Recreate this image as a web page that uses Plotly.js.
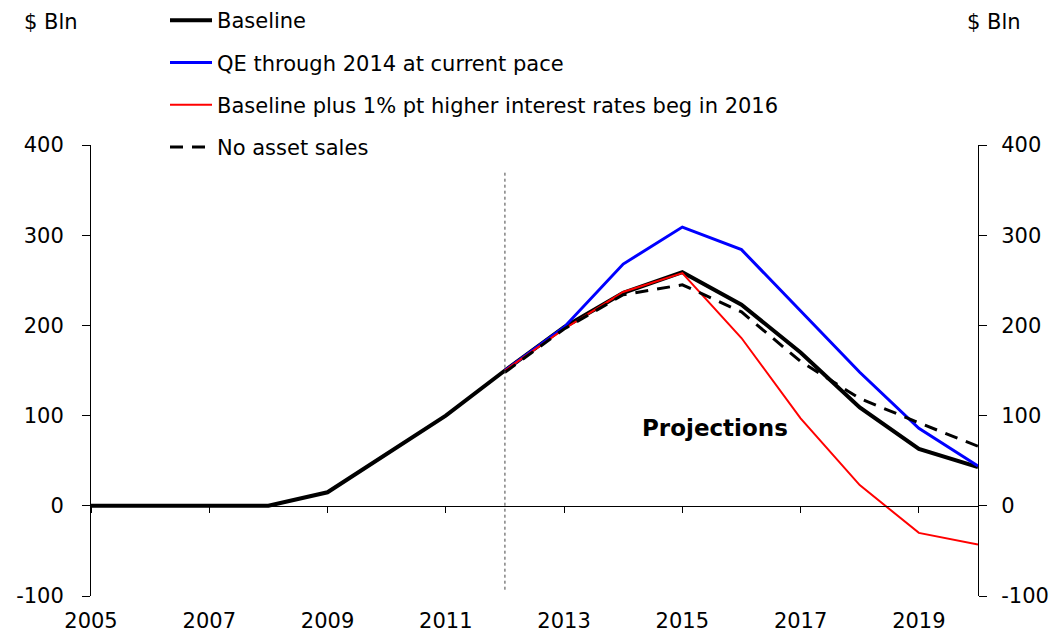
<!DOCTYPE html>
<html><head><meta charset="utf-8">
<script src="https://cdn.plot.ly/plotly-3.0.1.min.js"></script>
<style>html,body{margin:0;padding:0;background:#fff}#c{width:1058px;height:637px}</style>
</head><body><div id="c"></div>
<script>
const yearsAll = [2005,2006,2007,2008,2009,2010,2011,2012,2013,2014,2015,2016,2017,2018,2019,2020];
const baseline = [0,0,0,0,15,58,100,150,198,236,259,223,170,109,63,43];
const yearsProj = [2012,2013,2014,2015,2016,2017,2018,2019,2020];
const qe2014 = [150,198,268,309,284,216,148,86,44];
const higherRates = [150,196,237,258,186,97,23,-30,-43];
const noAssetSales = [148,196,234,245,215,160,119,92,66];
const names = ["Baseline","QE through 2014 at current pace","Baseline plus 1% pt higher interest rates beg in 2016","No asset sales"];
const xTicks = [2005,2007,2009,2011,2013,2015,2017,2019];
const yTicks = [-100,0,100,200,300,400];
const yTickText = ["-100","0","100","200","300","400"];

const F = "'DejaVu Sans', Verdana, sans-serif";
const FS = 21;
const W = 1058, H = 637, L = 91, R = 80, T = 145, B = 41;
const pw = W - L - R, ph = H - T - B;
const traces = [
  {x: yearsAll, y: baseline, name: names[0], mode:'lines', line:{color:'#000', width:4}, legendgroup:'a'},
  {x: yearsProj, y: qe2014, name: names[1], mode:'lines', line:{color:'#0000ff', width:3}, legendgroup:'b'},
  {x: yearsProj, y: higherRates, name: names[2], mode:'lines', line:{color:'#ff0000', width:2}, legendgroup:'c'},
  {x: yearsProj, y: noAssetSales, name: names[3], mode:'lines', line:{color:'#000', width:3, dash:'13px,9px'}, legendgroup:'d'},
  {x: [2005,2020], y:[0,0], xaxis:'x2', yaxis:'y2', mode:'lines', line:{width:0}, showlegend:false, hoverinfo:'skip'}
];
const layout = {
  width:W, height:H,
  margin:{l:L, r:R, t:T, b:B, autoexpand:false},
  paper_bgcolor:'#fff', plot_bgcolor:'#fff',
  font:{family:F, size:FS, color:'#000'},
  showlegend:true,
  legend:{x:(165-L)/pw, xref:'paper', xanchor:'left', y:(H-B)/ph, yref:'paper', yanchor:'top',
    font:{family:F, size:FS, color:'#000'}, tracegroupgap:12, bgcolor:'rgba(0,0,0,0)', itemwidth:42},
  xaxis:{range:[2005,2020], tickvals:xTicks, ticktext:xTicks.map(String), showgrid:false, zeroline:false,
    showline:false, ticks:'', tickfont:{family:F,size:FS}, ticklabelstandoff:10},
  xaxis2:{range:[2005,2020], overlaying:'x', anchor:'free', position:0.2, tickvals:xTicks, showticklabels:false,
    showgrid:false, zeroline:false, showline:true, linecolor:'#000', linewidth:1.5, ticks:'outside', ticklen:6, tickcolor:'#000', tickwidth:1},
  yaxis:{range:[-100,400], tickvals:yTicks, ticktext:yTickText, showgrid:false, zeroline:false, showline:true, linecolor:'#000', linewidth:1,
    ticks:'outside', ticklen:8, tickcolor:'#000', tickfont:{family:F,size:FS}, ticklabelstandoff:14},
  yaxis2:{range:[-100,400], overlaying:'y', side:'right', anchor:'x', tickvals:yTicks, ticktext:yTickText, showgrid:false, zeroline:false,
    showline:true, linecolor:'#000', linewidth:1, ticks:'outside', ticklen:8, tickcolor:'#000', tickfont:{family:F,size:FS}, ticklabelstandoff:10},
  shapes:[{type:'line', xref:'x', yref:'y', x0:2012, x1:2012, y0:-93, y1:372, line:{color:'#444', width:1, dash:'dot'}}],
  annotations:[
    {text:'$ Bln', x:(22-L)/pw, y:(H-B-22)/ph, xref:'paper', yref:'paper', xanchor:'left', yanchor:'middle', showarrow:false, font:{family:F,size:FS}},
    {text:'$ Bln', x:(965-L)/pw, y:(H-B-22)/ph, xref:'paper', yref:'paper', xanchor:'left', yanchor:'middle', showarrow:false, font:{family:F,size:FS}},
    {text:'<b>Projections</b>', x:2015.55, y:86, xref:'x', yref:'y', showarrow:false, font:{family:F,size:23}}
  ]
};
Plotly.newPlot('c', traces, layout, {displayModeBar:false, staticPlot:true});
</script></body></html>
